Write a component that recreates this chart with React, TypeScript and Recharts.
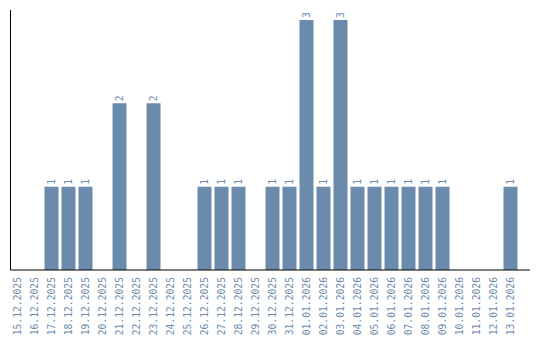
import React from "react";
import { BarChart, Bar, XAxis, YAxis, LabelList } from "recharts";

const dates = [
  "15.12.2025", "16.12.2025", "17.12.2025", "18.12.2025", "19.12.2025",
  "20.12.2025", "21.12.2025", "22.12.2025", "23.12.2025", "24.12.2025",
  "25.12.2025", "26.12.2025", "27.12.2025", "28.12.2025", "29.12.2025",
  "30.12.2025", "31.12.2025", "01.01.2026", "02.01.2026", "03.01.2026",
  "04.01.2026", "05.01.2026", "06.01.2026", "07.01.2026", "08.01.2026",
  "09.01.2026", "10.01.2026", "11.01.2026", "12.01.2026", "13.01.2026",
];
const counts = [
  0, 0, 1, 1, 1,
  0, 2, 0, 2, 0,
  0, 1, 1, 1, 0,
  1, 1, 3, 1, 3,
  1, 1, 1, 1, 1,
  1, 0, 0, 0, 1,
];

const data = dates.map((d, i) => ({ date: d, value: counts[i] }));

const BAR = "#6a8bab";
const TEXT = "#6a8bab";
const FONT = "'DejaVu Sans Mono', monospace";

const Tick = (props: any) => {
  const { x, payload } = props;
  return (
    <text
      transform={`translate(${x},277) rotate(-90)`}
      textAnchor="end"
      dominantBaseline="central"
      fontFamily={FONT}
      fontSize={9.7}
      fill={TEXT}
    >
      {payload.value}
    </text>
  );
};

const ValueLabel = (props: any) => {
  const { x, y, width, value } = props;
  if (!value) return null;
  const cx = x + width / 2;
  return (
    <text
      transform={`translate(${cx},${y - 2}) rotate(-90)`}
      textAnchor="start"
      dominantBaseline="central"
      fontFamily={FONT}
      fontSize={9.7}
      fill={TEXT}
    >
      {value}
    </text>
  );
};

export default function App() {
  return (
    <div style={{ position: "absolute", left: 0, top: 0, background: "#fff" }}>
      <BarChart
        width={540}
        height={340}
        data={data}
        margin={{ top: 10, right: 10, left: 0, bottom: 0 }}
        barSize={14}
      >
        <XAxis
          dataKey="date"
          height={70}
          interval={0}
          tickLine={false}
          axisLine={{ stroke: "#000", strokeWidth: 1 }}
          tick={<Tick />}
          padding={{ left: -2, right: 11.5 }}
        />
        <YAxis
          width={10.5}
          domain={[0, 3.12]}
          tick={false}
          tickLine={false}
          axisLine={{ stroke: "#000", strokeWidth: 1 }}
          allowDataOverflow
        />
        <Bar dataKey="value" fill={BAR} isAnimationActive={false}>
          <LabelList dataKey="value" content={<ValueLabel />} />
        </Bar>
      </BarChart>
    </div>
  );
}
